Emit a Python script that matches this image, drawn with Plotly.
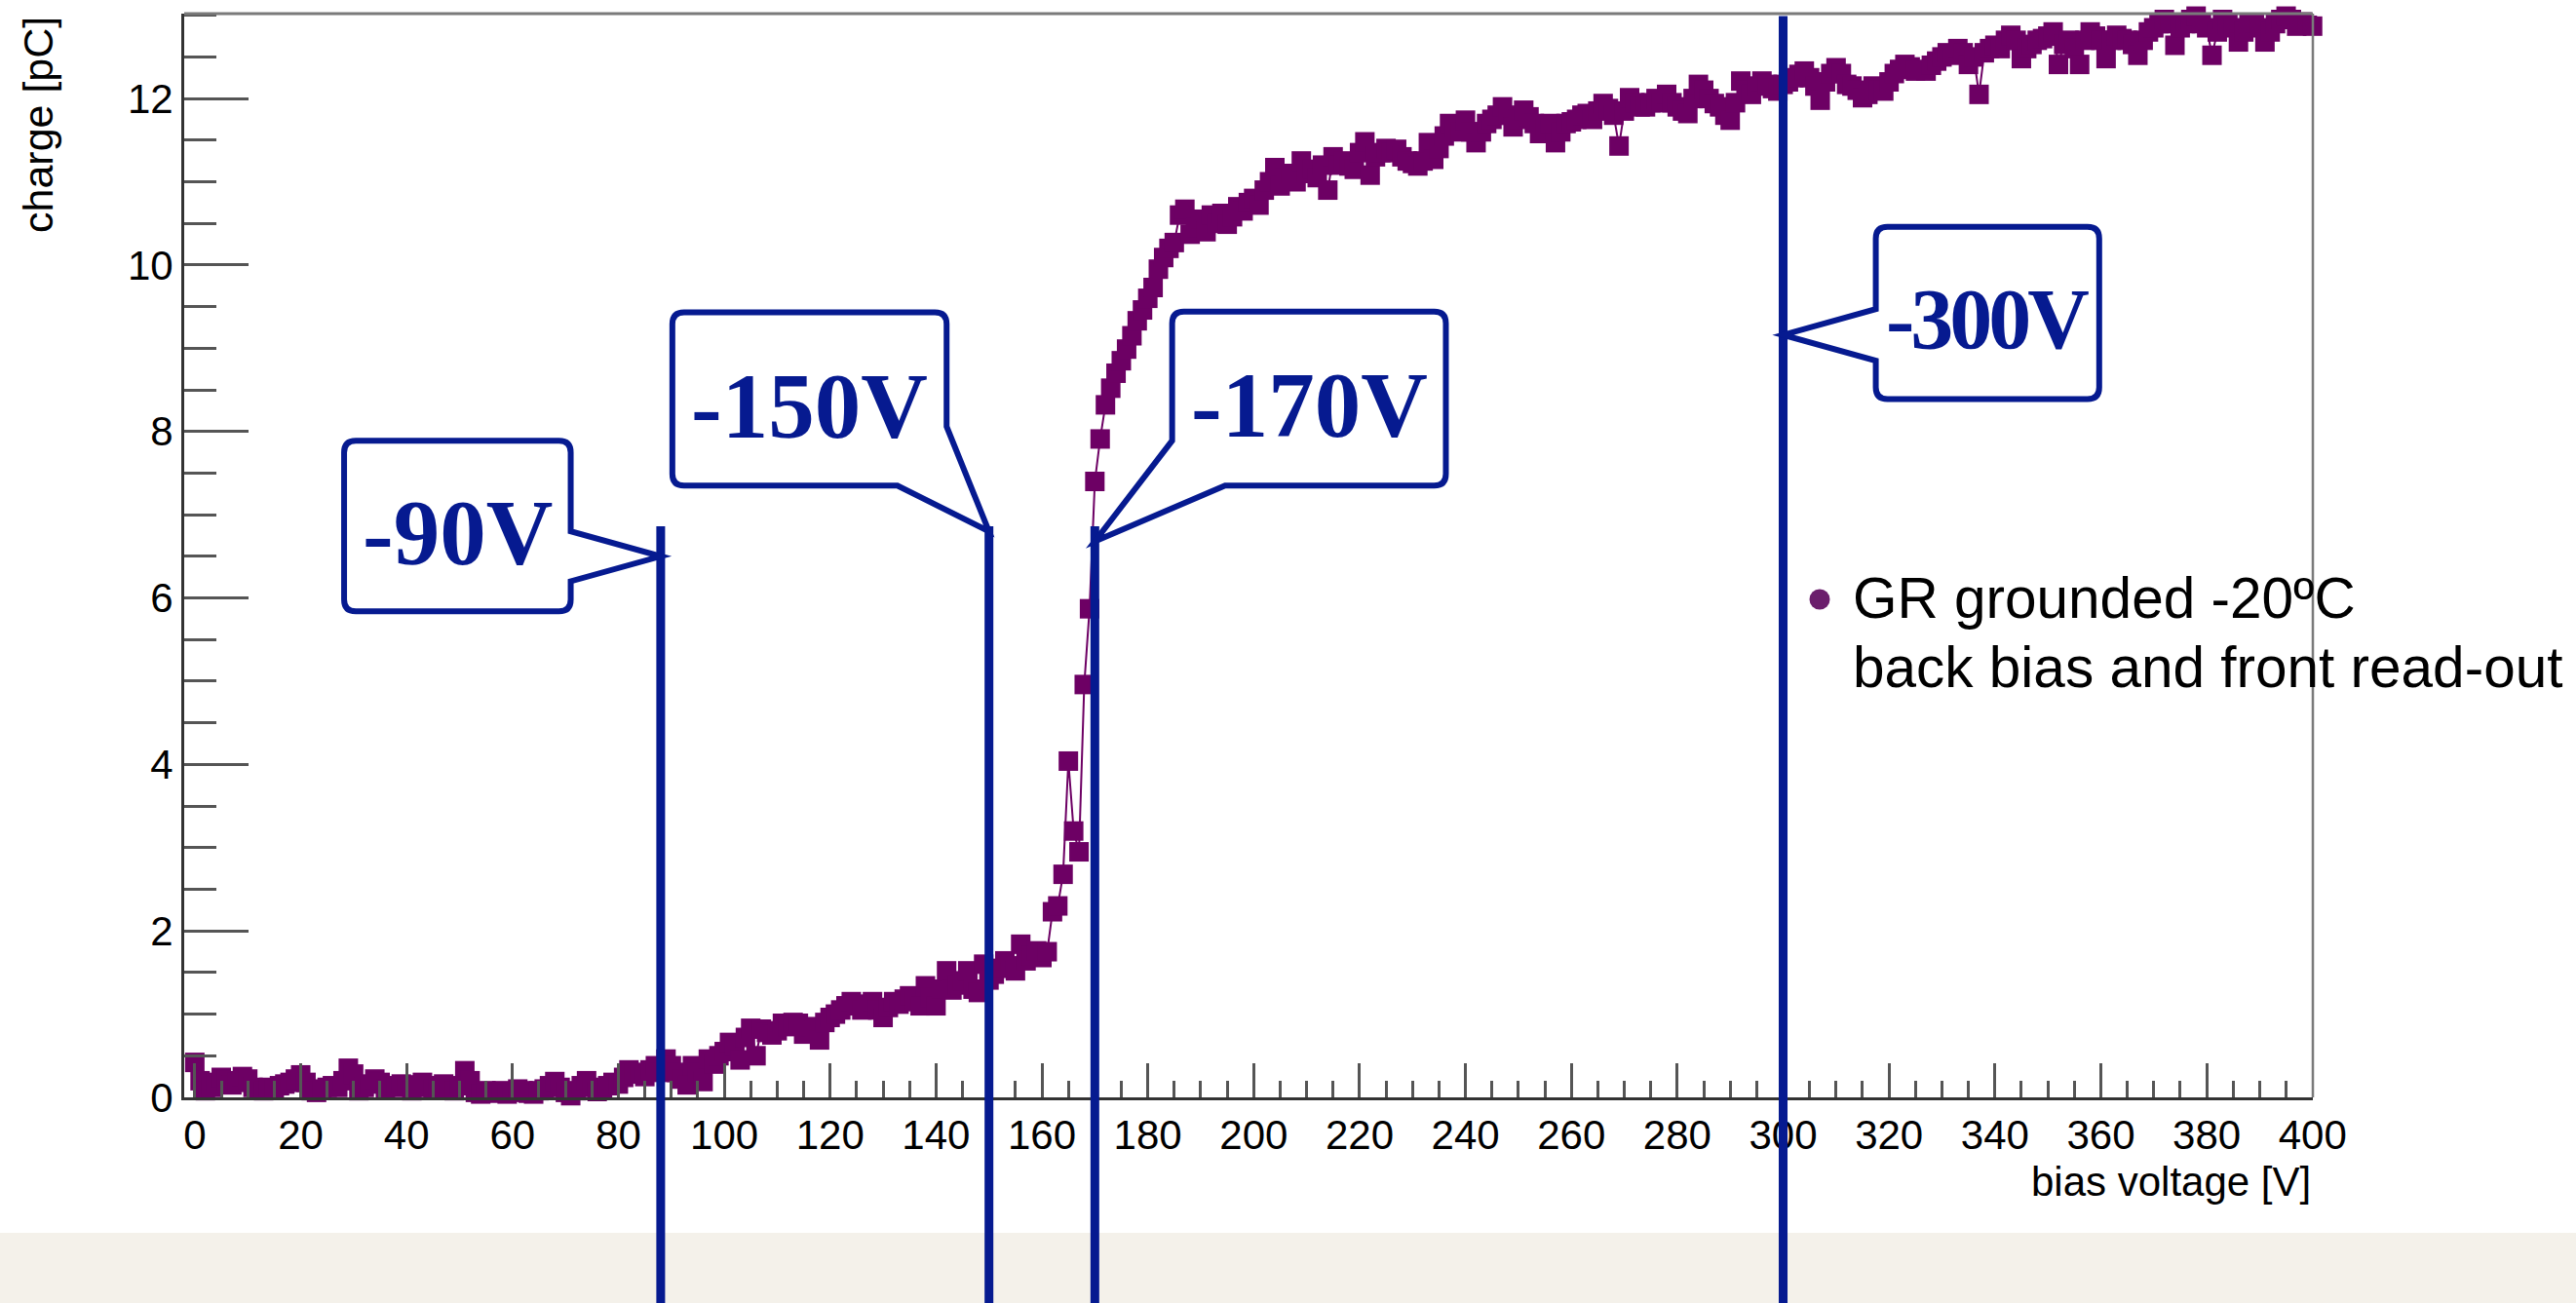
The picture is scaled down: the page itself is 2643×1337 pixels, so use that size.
import plotly.graph_objects as go

# ---------------- data ----------------
voltage = list(range(0, 401))
charge = [
    0.42, 0.20, 0.08, 0.12, 0.18, 0.24, 0.20, 0.15, 0.18, 0.25,
    0.22, 0.12, 0.10, 0.08, 0.12, 0.10, 0.14, 0.16, 0.18, 0.22,
    0.27, 0.18, 0.08, 0.06, 0.10, 0.12, 0.14, 0.12, 0.20, 0.35,
    0.28, 0.08, 0.12, 0.16, 0.22, 0.18, 0.10, 0.14, 0.12, 0.16,
    0.15, 0.08, 0.12, 0.18, 0.14, 0.10, 0.12, 0.16, 0.10, 0.08,
    0.14, 0.32, 0.20, 0.06, 0.04, 0.08, 0.06, 0.05, 0.08, 0.04,
    0.06, 0.10, 0.08, 0.05, 0.04, 0.08, 0.10, 0.14, 0.19, 0.12,
    0.06, 0.02, 0.08, 0.14, 0.20, 0.12, 0.07, 0.10, 0.14, 0.18,
    0.16, 0.24, 0.33, 0.28, 0.30, 0.25, 0.33, 0.38, 0.30, 0.46,
    0.38, 0.30, 0.22, 0.15, 0.38, 0.30, 0.19, 0.46, 0.40, 0.50,
    0.55, 0.66, 0.62, 0.45, 0.72, 0.83, 0.50, 0.82, 0.78, 0.75,
    0.80, 0.89, 0.85, 0.90, 0.89, 0.76, 0.85, 0.80, 0.69, 0.90,
    0.96, 1.00, 1.05, 1.10, 1.15, 1.12, 1.05, 1.10, 1.15, 1.05,
    0.96, 1.08, 1.15, 1.12, 1.18, 1.22, 1.15, 1.10, 1.34, 1.20,
    1.10, 1.30, 1.52, 1.29, 1.35, 1.40, 1.52, 1.30, 1.26, 1.60,
    1.41, 1.48, 1.55, 1.64, 1.58, 1.52, 1.84, 1.64, 1.70, 1.76,
    1.68, 1.75, 2.23, 2.30, 2.68, 4.04, 3.20, 2.95, 4.96, 5.87,
    7.40, 7.91, 8.32, 8.52, 8.70, 8.85, 8.99, 9.15, 9.33, 9.46,
    9.60, 9.73, 9.95, 10.09, 10.20, 10.27, 10.60, 10.67, 10.37, 10.45,
    10.55, 10.40, 10.60, 10.50, 10.62, 10.49, 10.58, 10.70, 10.65, 10.75,
    10.80, 10.72, 10.90, 11.00, 11.17, 10.95, 11.05, 11.10, 11.00, 11.25,
    11.10, 11.15, 11.05, 11.20, 10.90, 11.30, 11.20, 11.25, 11.19, 11.15,
    11.35, 11.48, 11.08, 11.30, 11.35, 11.40, 11.35, 11.39, 11.30, 11.25,
    11.22, 11.19, 11.25, 11.47, 11.27, 11.40, 11.55, 11.70, 11.65, 11.60,
    11.74, 11.60, 11.47, 11.60, 11.70, 11.75, 11.80, 11.90, 11.80, 11.66,
    11.75, 11.86, 11.78, 11.70, 11.58, 11.65, 11.70, 11.47, 11.60, 11.70,
    11.72, 11.75, 11.80, 11.82, 11.75, 11.85, 11.94, 11.88, 11.80, 11.43,
    11.85, 12.01, 11.95, 11.90, 11.90, 11.95, 12.00, 11.95, 12.05, 11.95,
    11.90, 11.85, 11.82, 12.00, 12.17, 12.10, 12.00, 11.94, 11.90, 11.80,
    11.74, 11.95, 12.21, 12.10, 12.05, 12.15, 12.21, 12.17, 12.12, 12.09,
    12.17, 12.20, 12.25, 12.29, 12.33, 12.25, 12.15, 11.98, 12.20, 12.30,
    12.37, 12.30, 12.17, 12.15, 12.10, 12.01, 12.05, 12.15, 12.10, 12.09,
    12.20, 12.30, 12.35, 12.41, 12.38, 12.33, 12.35, 12.33, 12.40, 12.45,
    12.50, 12.55, 12.52, 12.60, 12.55, 12.41, 12.50, 12.05, 12.55, 12.60,
    12.64, 12.60, 12.70, 12.76, 12.70, 12.48, 12.60, 12.65, 12.70, 12.72,
    12.75, 12.80, 12.41, 12.65, 12.70, 12.60, 12.41, 12.70, 12.80, 12.75,
    12.70, 12.48, 12.70, 12.76, 12.72, 12.70, 12.65, 12.52, 12.70, 12.80,
    12.85, 12.90, 12.95, 12.90, 12.64, 12.85, 12.90, 12.95, 12.99, 12.90,
    12.85, 12.52, 12.80, 12.95, 12.90, 12.85, 12.68, 12.80, 12.90, 12.91,
    12.85, 12.68, 12.80, 12.90, 12.95, 12.99, 12.95, 12.87, 12.92, 12.88,
    12.87,
]

marker_voltages = [88, 150, 170, 300]
marker_labels = ["-90V", "-150V", "-170V", "-300V"]
series_name = "GR grounded -20ºC"
series_note = "back bias and front read-out"

X_RANGE = [-2, 400.05]
Y_RANGE = [0, 13.02]

W, H = 2643, 1337
ML, MR, MT, MB = 189, 270, 14, 211
PW = W - ML - MR
PH = H - MT - MB

PURPLE = "#6d0064"
BLUE = "#061a90"

def paper_x(px):
    return (px - ML) / PW

def paper_y(py):
    return (H - MB - py) / PH

fig = go.Figure()
fig.add_trace(go.Scatter(
    x=voltage, y=charge, mode="lines+markers",
    line=dict(color=PURPLE, width=2),
    marker=dict(symbol="square", size=20, color=PURPLE),
    cliponaxis=False, showlegend=False, name=series_name,
))

shapes = []
annotations = []

# beige band at the bottom of the slide
shapes.append(dict(type="rect", xref="paper", yref="paper",
                   x0=paper_x(-20), x1=paper_x(W + 20), y0=paper_y(H + 20), y1=paper_y(1265),
                   fillcolor="#f4f1ea", line=dict(width=0), layer="below"))

# frame top/right
shapes.append(dict(type="line", xref="paper", yref="paper", x0=0, x1=1, y0=1, y1=1,
                   line=dict(color="#7a7a7a", width=3), layer="above"))
shapes.append(dict(type="line", xref="paper", yref="paper", x0=1, x1=1, y0=0, y1=1,
                   line=dict(color="#7a7a7a", width=2.5), layer="above"))

# vertical marker lines (top in data units)
line_tops = [6.86, 6.86, 6.86, 12.99]
for v, top in zip(marker_voltages, line_tops):
    shapes.append(dict(type="line", xref="x", yref="paper",
                       x0=v, x1=v, y0=paper_y(H + 20), y1=top / Y_RANGE[1],
                       line=dict(color=BLUE, width=9), layer="above"))

# callout boxes: polygon vertices in data units, flag = rounded corner
RX = 12 * (X_RANGE[1] - X_RANGE[0]) / PW
RY = 12 * (Y_RANGE[1] - Y_RANGE[0]) / PH

callouts = [
    # -90V: tail on right edge
    [(28.2, 7.89, True), (71.0, 7.89, True), (71.0, 6.80, False), (88.0, 6.50, False),
     (71.0, 6.20, False), (71.0, 5.84, True), (28.2, 5.84, True)],
    # -150V: tail cuts bottom-right corner
    [(90.2, 9.43, True), (142.0, 9.43, True), (142.0, 8.06, False), (150.0, 6.80, False),
     (132.7, 7.35, False), (90.2, 7.35, True)],
    # -170V: tail cuts bottom-left corner
    [(184.6, 9.44, True), (236.3, 9.44, True), (236.3, 7.35, True), (194.6, 7.35, False),
     (170.0, 6.68, False), (184.6, 7.89, False)],
    # -300V: tail on left edge
    [(317.5, 10.46, True), (359.7, 10.46, True), (359.7, 8.39, True), (317.5, 8.39, True),
     (317.5, 8.85, False), (300.0, 9.16, False), (317.5, 9.47, False)],
]
text_pos = [(49.6, 6.78), (116.1, 8.30), (210.5, 8.31), (338.6, 9.35)]
text_size = [95, 95, 95, 88]
text_spacing = [0, 0, 0, -4]


def toward(c, p):
    dx, dy = p[0] - c[0], p[1] - c[1]
    if abs(dy) < 1e-9:
        return (c[0] + (RX if dx > 0 else -RX), c[1])
    return (c[0], c[1] + (RY if dy > 0 else -RY))


def build_path(verts):
    n = len(verts)
    parts = []
    for i, (x, y, r) in enumerate(verts):
        prev = verts[i - 1]
        nxt = verts[(i + 1) % n]
        if r:
            a = toward((x, y), prev)
            b = toward((x, y), nxt)
            parts.append(("L" if parts else "M") + f"{a[0]:.4f},{a[1]:.4f}")
            parts.append(f"Q{x:.4f},{y:.4f} {b[0]:.4f},{b[1]:.4f}")
        else:
            parts.append(("L" if parts else "M") + f"{x:.4f},{y:.4f}")
    return " ".join(parts) + " Z"


for verts, label, (tx, ty), fs, ls in zip(callouts, marker_labels, text_pos, text_size, text_spacing):
    shapes.append(dict(type="path", xref="x", yref="y", path=build_path(verts),
                       fillcolor="white", line=dict(color=BLUE, width=6), layer="above"))
    txt = f"<b>{label}</b>" if ls == 0 else f"<span style='letter-spacing:{ls}px'><b>{label}</b></span>"
    annotations.append(dict(x=tx, y=ty, xref="x", yref="y", text=txt,
                            showarrow=False, xanchor="center", yanchor="middle",
                            font=dict(family="Liberation Serif, Times New Roman, serif",
                                      size=fs, color=BLUE)))

# legend-like label
shapes.append(dict(type="circle", xref="paper", yref="paper", xsizemode="pixel", ysizemode="pixel",
                   xanchor=paper_x(1867), yanchor=paper_y(615), x0=-10.5, x1=10.5, y0=-10.5, y1=10.5,
                   fillcolor="#6b1e6c", line=dict(width=0), layer="above"))
annotations.append(dict(x=paper_x(1899), y=paper_y(613), xref="paper", yref="paper",
                        text=series_name, showarrow=False, xanchor="left", yanchor="middle",
                        font=dict(family="Liberation Sans, Arial, sans-serif", size=58.5, color="black")))
annotations.append(dict(x=paper_x(1899), y=paper_y(684), xref="paper", yref="paper",
                        text=series_note, showarrow=False, xanchor="left", yanchor="middle",
                        font=dict(family="Liberation Sans, Arial, sans-serif", size=58.5, color="black")))

# axis titles
annotations.append(dict(x=paper_x(39), y=paper_y(15), xref="paper", yref="paper",
                        text="charge [pC]", textangle=-90, showarrow=False,
                        xanchor="center", yanchor="top",
                        font=dict(family="Liberation Sans, Arial, sans-serif", size=43, color="black")))
annotations.append(dict(x=1.0, y=paper_y(1212), xref="paper", yref="paper",
                        text="bias voltage [V]", showarrow=False,
                        xanchor="right", yanchor="middle",
                        font=dict(family="Liberation Sans, Arial, sans-serif", size=42, color="black")))

tickfont = dict(family="Liberation Sans, Arial, sans-serif", size=42, color="black")

fig.update_layout(
    width=W, height=H,
    margin=dict(l=ML, r=MR, t=MT, b=MB, autoexpand=False),
    paper_bgcolor="white", plot_bgcolor="white",
    shapes=shapes, annotations=annotations, showlegend=False,
    xaxis=dict(range=X_RANGE, tick0=0, dtick=20, ticks="inside", ticklen=35, tickwidth=3,
               tickcolor="#555555", showline=True, linecolor="#333333", linewidth=3,
               showgrid=False, zeroline=False, tickfont=tickfont,
               minor=dict(ticks="inside", ticklen=17, tickwidth=3, dtick=5, tickcolor="#555555",
                          showgrid=False)),
    yaxis=dict(range=Y_RANGE, tick0=0, dtick=2, ticks="inside", ticklen=66, tickwidth=3,
               tickcolor="#555555", showline=True, linecolor="#333333", linewidth=3,
               showgrid=False, zeroline=False, tickfont=tickfont,
               minor=dict(ticks="inside", ticklen=33, tickwidth=3, dtick=0.5, tickcolor="#555555",
                          showgrid=False)),
)

fig.write_html("out.html", config={"displayModeBar": False},
               post_script="document.body.style.margin='0';")
